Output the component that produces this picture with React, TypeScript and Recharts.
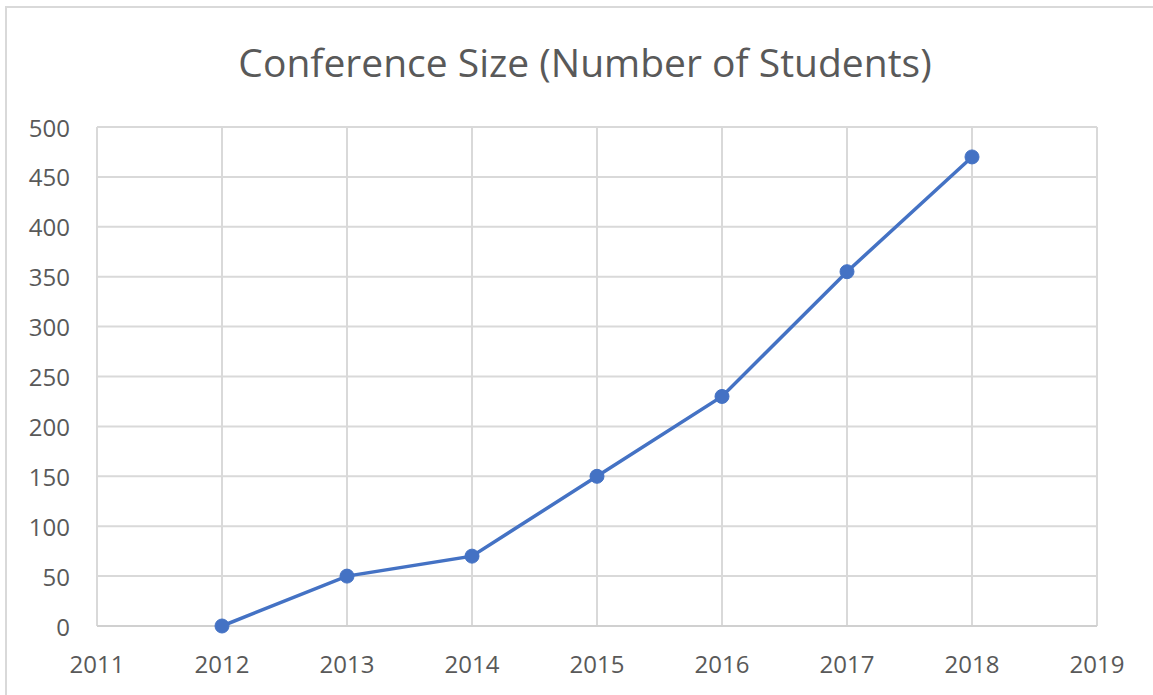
import React from 'react';
import { LineChart, Line, XAxis, YAxis, CartesianGrid } from 'recharts';

const years = [2012, 2013, 2014, 2015, 2016, 2017, 2018];
const students = [0, 50, 70, 150, 230, 355, 470];
const xTicks = [2011, 2012, 2013, 2014, 2015, 2016, 2017, 2018, 2019];
const yTicks = [0, 50, 100, 150, 200, 250, 300, 350, 400, 450, 500];
const title = 'Conference Size (Number of Students)';

const data = years.map((y, i) => ({ year: y, value: students[i] }));

const FONT = '"Open Sans", "Noto Sans", sans-serif';
const TEXT = '#595959';
const GRID = '#d9d9d9';

const XTick = (props: any) => {
  const { x, y, payload } = props;
  return (
    <text x={x} y={y + 37} textAnchor="middle" dominantBaseline="central" fill={TEXT} fontSize={24} fontFamily={FONT}>
      {payload.value}
    </text>
  );
};

const YTick = (props: any) => {
  const { x, y, payload } = props;
  return (
    <text x={x - 27} y={y} textAnchor="end" dominantBaseline="central" fill={TEXT} fontSize={24} fontFamily={FONT}>
      {payload.value}
    </text>
  );
};

export default function App() {
  return (
    <div style={{ position: 'absolute', left: 0, top: 0, width: 1153, height: 695, background: '#fff', overflow: 'hidden' }}>
      <div style={{ position: 'absolute', left: 5, top: 6, width: 1200, height: 800, border: '2px solid #d9d9d9', boxSizing: 'border-box' }} />
      <div style={{ position: 'absolute', left: 0, top: 34, width: 1170, textAlign: 'center', fontFamily: FONT, fontSize: 39, color: TEXT, lineHeight: '56px' }}>
        {title}
      </div>
      <div style={{ position: 'absolute', left: 0, top: 0 }}>
        <LineChart width={1153} height={695} data={data} margin={{ top: 127, right: 56, bottom: 39, left: 0 }}>
          <CartesianGrid stroke={GRID} strokeWidth={2} horizontal vertical />
          <XAxis
            dataKey="year"
            type="number"
            domain={[2011, 2019]}
            ticks={xTicks}
            interval={0}
            height={30}
            tickLine={false}
            tickSize={0}
            tickMargin={0}
            axisLine={{ stroke: '#d0d0d0', strokeWidth: 2 }}
            tick={<XTick />}
          />
          <YAxis
            type="number"
            domain={[0, 500]}
            ticks={yTicks}
            interval={0}
            width={97}
            tickLine={false}
            tickSize={0}
            tickMargin={0}
            axisLine={false}
            tick={<YTick />}
          />
          <Line
            type="linear"
            dataKey="value"
            stroke="#4472C4"
            strokeWidth={3.5}
            dot={{ r: 7, fill: '#4472C4', stroke: '#4472C4', strokeWidth: 1 }}
            isAnimationActive={false}
          />
        </LineChart>
      </div>
    </div>
  );
}
